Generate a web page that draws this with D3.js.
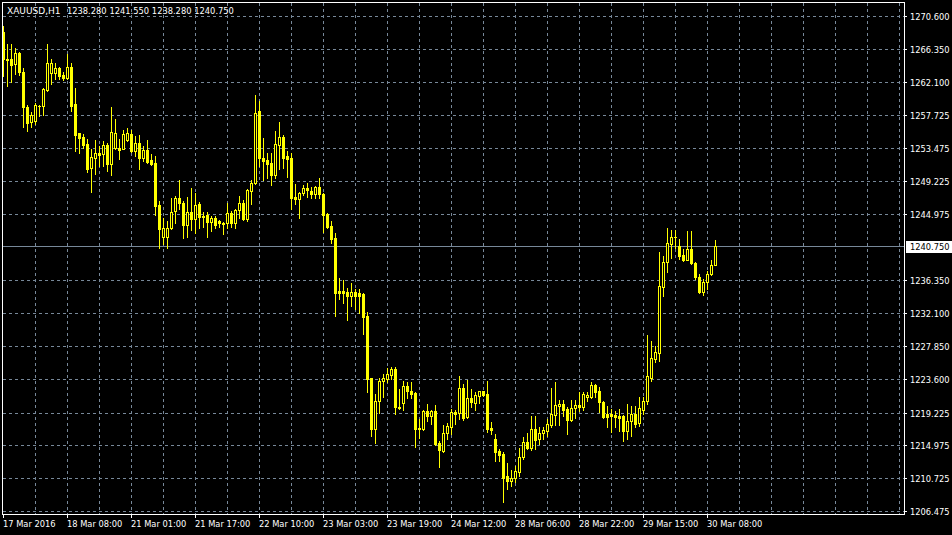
<!DOCTYPE html>
<html>
<head>
<meta charset="utf-8">
<script src="https://cdn.jsdelivr.net/npm/d3@7"></script>
<style>
html,body{margin:0;padding:0;background:#000;overflow:hidden}
svg{display:block}
</style>
</head>
<body>
<svg id="chart" width="952" height="535"></svg>
<script>
// ---------------- data ----------------
const symbol = "XAUUSD,H1";
const lastBarOHLC = ["1238.280", "1241.550", "1238.280", "1240.750"];
const bidPrice = 1240.750;

const open = [
1268.59,1265.06,1265.06,1264.41,1265.75,1263.38,1258.85,1256.91,1256.99,1258.98,
1258.93,1261.00,1263.16,1263.16,1263.90,1262.90,1262.51,1264.03,1259.15,1255.39,
1254.97,1253.97,1250.86,1252.25,1252.80,1252.77,1253.84,1251.47,1253.54,1253.54,
1253.41,1254.53,1255.26,1253.10,1254.10,1252.25,1253.19,1251.90,1251.51,1246.07,
1241.97,1241.97,1243.19,1245.34,1247.07,1246.42,1243.49,1245.26,1244.26,1246.20,
1244.69,1244.78,1243.91,1244.39,1244.04,1243.84,1243.75,1245.04,1243.75,1245.47,
1246.42,1244.26,1247.93,1248.92,1258.24,1252.25,1251.94,1251.51,1249.96,1253.88,
1254.97,1252.45,1252.16,1247.20,1246.94,1247.72,1248.28,1247.93,1247.59,1248.44,
1247.50,1244.91,1243.40,1241.80,1234.98,1234.94,1234.85,1234.34,1234.85,1234.69,
1234.56,1231.75,1223.65,1217.08,1220.67,1223.26,1223.56,1224.11,1224.85,1219.97,
1220.41,1222.61,1222.04,1221.71,1217.17,1217.08,1219.38,1218.73,1219.38,1215.27,
1214.20,1216.53,1217.38,1219.32,1219.12,1222.39,1218.60,1221.06,1220.45,1221.39,
1221.96,1221.61,1217.21,1215.79,1214.20,1213.85,1211.04,1210.32,1210.70,1211.58,
1213.42,1215.44,1214.63,1217.08,1215.79,1216.53,1216.86,1217.64,1218.94,1220.10,
1220.32,1219.67,1218.29,1219.76,1220.19,1219.97,1221.19,1221.19,1222.78,1221.96,
1220.54,1219.03,1219.03,1218.90,1218.81,1218.81,1216.79,1218.16,1219.03,1217.82,
1219.58,1220.67,1223.68,1226.14,1226.92,1235.55,1238.79,1241.12,1242.02,1240.81,
1239.60,1238.99,1240.38,1238.66,1236.85,1234.85,1236.16,1237.24,1238.28
];
const high = [
1269.24,1266.91,1266.91,1266.39,1265.88,1263.81,1259.02,1258.11,1259.37,1259.02,
1261.31,1266.91,1264.97,1264.54,1263.93,1263.38,1265.62,1264.54,1261.31,1255.45,
1255.26,1254.62,1253.32,1254.53,1253.75,1254.40,1254.19,1258.80,1257.20,1254.62,
1255.78,1256.04,1255.78,1255.04,1255.13,1253.75,1254.49,1252.68,1252.45,1246.63,
1244.43,1244.04,1246.98,1247.28,1249.31,1246.59,1247.15,1248.37,1247.63,1246.55,
1245.26,1245.26,1244.69,1244.69,1244.17,1243.91,1246.33,1245.34,1245.65,1247.28,
1246.72,1248.24,1249.35,1260.31,1259.57,1254.84,1252.90,1252.80,1255.69,1256.91,
1255.13,1253.10,1252.90,1248.79,1247.80,1248.66,1248.92,1248.50,1248.57,1249.57,
1247.72,1245.04,1244.04,1242.54,1236.72,1236.41,1235.42,1236.07,1235.20,1235.20,
1234.69,1232.19,1223.68,1221.61,1223.65,1224.20,1224.94,1225.07,1225.07,1222.26,
1223.34,1223.13,1223.21,1221.84,1218.38,1219.54,1220.32,1219.54,1220.19,1215.57,
1217.64,1217.82,1219.67,1219.54,1223.98,1222.91,1223.47,1222.26,1221.84,1222.04,
1222.04,1223.34,1217.95,1216.44,1214.50,1214.07,1212.68,1211.82,1212.34,1214.59,
1216.01,1216.57,1218.73,1218.73,1217.34,1217.30,1218.38,1222.35,1223.21,1220.84,
1220.88,1219.89,1220.84,1220.84,1221.84,1221.91,1221.84,1223.13,1222.90,1222.48,
1220.71,1220.10,1219.67,1219.45,1219.67,1218.94,1220.32,1220.02,1220.06,1221.27,
1221.19,1229.25,1228.51,1227.79,1240.03,1239.51,1243.10,1242.88,1242.88,1241.67,
1240.38,1242.75,1242.75,1238.79,1237.14,1236.50,1237.57,1238.96,1241.55
];
const low = [
1262.77,1261.51,1262.03,1263.03,1262.90,1256.21,1255.65,1256.21,1256.65,1257.63,
1257.72,1260.89,1261.73,1262.38,1262.38,1262.25,1262.45,1258.28,1253.10,1252.90,
1253.54,1250.38,1247.80,1250.09,1251.16,1251.16,1250.51,1250.00,1253.32,1252.03,
1253.32,1254.40,1253.02,1252.45,1250.82,1251.81,1251.51,1251.29,1244.78,1240.60,
1241.03,1240.60,1242.97,1243.84,1245.56,1241.89,1241.97,1242.88,1242.45,1243.19,
1243.32,1241.97,1242.75,1243.19,1243.27,1242.41,1243.19,1243.27,1243.19,1244.39,
1244.13,1244.04,1246.20,1248.79,1251.16,1249.35,1249.66,1248.66,1249.66,1250.73,
1250.95,1249.74,1245.56,1246.20,1244.39,1247.37,1247.15,1247.07,1247.07,1247.07,
1242.62,1243.19,1241.25,1231.75,1233.91,1233.48,1231.23,1233.04,1232.62,1232.10,
1229.38,1221.91,1216.22,1215.27,1219.16,1221.19,1223.13,1223.56,1219.03,1219.67,
1219.54,1221.10,1221.10,1214.72,1215.88,1216.95,1218.16,1217.73,1215.05,1212.21,
1214.07,1215.79,1216.44,1217.73,1218.38,1218.29,1218.47,1219.89,1219.58,1220.45,
1221.32,1216.74,1216.44,1212.98,1212.98,1207.70,1209.32,1209.75,1210.19,1211.04,
1213.20,1214.50,1214.41,1214.50,1215.14,1215.79,1216.22,1217.34,1217.60,1217.60,
1218.73,1216.44,1218.16,1218.51,1219.45,1219.58,1220.75,1221.10,1221.19,1219.32,
1218.57,1217.38,1216.74,1217.30,1216.79,1215.49,1215.79,1216.14,1217.34,1217.43,
1219.03,1220.32,1223.34,1225.72,1225.85,1234.34,1237.49,1239.31,1240.51,1239.18,
1238.86,1238.95,1238.44,1236.50,1234.78,1234.47,1235.20,1237.02,1238.28
];
const close = [
1264.97,1264.91,1264.23,1265.75,1263.38,1258.80,1256.78,1257.76,1259.02,1258.93,
1261.09,1264.54,1264.54,1263.90,1262.81,1262.51,1264.03,1258.93,1255.13,1254.84,
1253.84,1250.73,1252.33,1252.80,1252.55,1253.84,1251.47,1255.61,1255.48,1253.23,
1255.26,1255.39,1253.10,1254.10,1252.25,1253.19,1251.68,1251.38,1245.98,1242.97,
1243.10,1243.19,1245.26,1247.07,1246.42,1243.49,1245.26,1244.26,1246.11,1244.56,
1244.56,1243.91,1244.39,1243.52,1243.75,1243.65,1245.04,1243.75,1245.47,1246.42,
1244.26,1248.06,1248.92,1258.07,1252.16,1251.81,1251.38,1249.96,1253.97,1254.97,
1252.25,1252.12,1246.98,1246.94,1247.72,1248.28,1248.06,1247.50,1248.44,1247.50,
1244.82,1243.27,1241.67,1234.69,1234.69,1234.69,1234.34,1234.85,1234.34,1234.34,
1231.62,1223.56,1217.08,1220.67,1223.34,1223.65,1224.20,1224.85,1219.89,1219.84,
1222.61,1222.04,1221.61,1217.08,1217.12,1219.38,1218.81,1219.38,1215.14,1214.41,
1216.57,1217.51,1219.32,1219.03,1222.39,1218.47,1221.06,1220.54,1221.48,1221.96,
1221.52,1217.08,1216.95,1214.15,1213.76,1210.74,1210.32,1210.74,1211.61,1213.42,
1215.44,1214.63,1217.08,1215.73,1216.57,1216.95,1217.73,1219.03,1220.19,1220.32,
1219.58,1218.29,1219.76,1220.19,1219.97,1221.61,1221.48,1222.78,1221.91,1220.54,
1218.68,1218.68,1218.73,1218.60,1218.51,1216.79,1218.08,1219.03,1217.73,1219.76,
1220.75,1223.91,1226.36,1227.01,1235.63,1238.79,1241.16,1242.02,1241.96,1239.51,
1238.99,1240.38,1238.57,1236.80,1234.85,1236.20,1237.24,1238.31,1240.75
];

const timeLabels = [
"17 Mar 2016","18 Mar 08:00","21 Mar 01:00","21 Mar 17:00","22 Mar 10:00","23 Mar 03:00",
"23 Mar 19:00","24 Mar 12:00","28 Mar 06:00","28 Mar 22:00","29 Mar 15:00","30 Mar 08:00"
];
const barsPerTimeLabel = 16;
const barsPerGridLine = 8;

const priceTicks = [
1270.600,1266.350,1262.100,1257.725,1253.475,1249.225,1244.975,
1236.350,1232.100,1227.850,1223.600,1219.225,1214.975,1210.725,1206.475
];

// ---------------- drawing ----------------
const W = 952, H = 535;
const frame = {left: 2, top: 2, right: 904, bottom: 514};
const candleColor = "#ffff00";
const gridColor = "#778899";
const textColor = "#ffffff";
const fontFamily = "'DejaVu Sans', Verdana, sans-serif";

const n = close.length;
const bars = d3.range(n).map(i => ({i, o: open[i], h: high[i], l: low[i], c: close[i]}));

const x = d3.scaleLinear().domain([0, 1]).range([3, 7]);            // column of each bar
const y = d3.scaleLinear().domain(d3.extent(priceTicks)).range([511.5, 16.5]);
const row = v => Math.floor(y(v));

const svg = d3.select("#chart");
svg.append("rect").attr("width", W).attr("height", H).attr("fill", "#000");

svg.append("defs").append("clipPath").attr("id", "plotClip")
  .append("rect")
  .attr("x", frame.left + 1).attr("y", frame.top + 1)
  .attr("width", frame.right - frame.left - 1).attr("height", frame.bottom - frame.top - 1);

const plot = svg.append("g").attr("clip-path", "url(#plotClip)");

// grid
const gridG = plot.append("g").attr("stroke", gridColor).attr("stroke-width", 1)
  .attr("stroke-dasharray", "3,3").attr("shape-rendering", "crispEdges");

gridG.selectAll("line.h").data(priceTicks).join("line").attr("class", "h")
  .attr("x1", frame.left + 1).attr("x2", frame.right)
  .attr("y1", d => row(d) + 0.5).attr("y2", d => row(d) + 0.5);

const vGrid = [];
for (let k = barsPerGridLine; x(k) < frame.right; k += barsPerGridLine) vGrid.push(k);
gridG.selectAll("line.v").data(vGrid).join("line").attr("class", "v")
  .attr("x1", d => x(d) + 0.5).attr("x2", d => x(d) + 0.5)
  .attr("y1", frame.top + 1).attr("y2", frame.bottom);

// bid line
plot.append("line")
  .attr("x1", frame.left + 1).attr("x2", frame.right)
  .attr("y1", row(bidPrice) + 0.5).attr("y2", row(bidPrice) + 0.5)
  .attr("stroke", gridColor).attr("stroke-width", 1).attr("shape-rendering", "crispEdges");

// candles
const cG = plot.append("g").attr("shape-rendering", "crispEdges");
const cand = cG.selectAll("g.candle").data(bars).join("g").attr("class", "candle");

cand.append("rect")
  .attr("x", d => x(d.i)).attr("y", d => row(d.h))
  .attr("width", 1).attr("height", d => row(d.l) - row(d.h) + 1)
  .attr("fill", candleColor);

cand.each(function(d) {
  const g = d3.select(this);
  const top = Math.min(row(d.o), row(d.c));
  const bot = Math.max(row(d.o), row(d.c));
  const cx = x(d.i);
  if (bot - top < 1) {
    g.append("rect").attr("x", cx - 1).attr("y", top).attr("width", 3).attr("height", 1)
      .attr("fill", candleColor);
  } else if (d.c > d.o) {
    g.append("rect").attr("x", cx - 0.5).attr("y", top + 0.5).attr("width", 2)
      .attr("height", bot - top).attr("fill", "#000").attr("stroke", candleColor).attr("stroke-width", 1);
  } else {
    g.append("rect").attr("x", cx - 1).attr("y", top).attr("width", 3)
      .attr("height", bot - top + 1).attr("fill", candleColor);
  }
});

// frame
svg.append("rect")
  .attr("x", frame.left + 0.5).attr("y", frame.top + 0.5)
  .attr("width", frame.right - frame.left).attr("height", frame.bottom - frame.top)
  .attr("fill", "none").attr("stroke", "#ffffff").attr("stroke-width", 1)
  .attr("shape-rendering", "crispEdges");

// right price axis
const yAx = svg.append("g").attr("font-family", fontFamily).attr("font-size", 8.3).attr("fill", textColor);
yAx.selectAll("line").data(priceTicks).join("line")
  .attr("x1", frame.right + 1).attr("x2", frame.right + 3)
  .attr("y1", d => row(d) + 0.5).attr("y2", d => row(d) + 0.5)
  .attr("stroke", "#ffffff").attr("shape-rendering", "crispEdges");
yAx.selectAll("text").data(priceTicks).join("text")
  .attr("x", 910).attr("y", d => row(d) + 3.5)
  .text(d => d3.format(".3f")(d));

// bid label
const bidRow = row(bidPrice);
svg.append("rect").attr("x", frame.right + 2).attr("y", bidRow - 5)
  .attr("width", W - frame.right - 2).attr("height", 12).attr("fill", "#ffffff");
svg.append("text").attr("x", 910).attr("y", bidRow + 3.5)
  .attr("font-family", fontFamily).attr("font-size", 8.3).attr("fill", "#000")
  .text(d3.format(".3f")(bidPrice));

// bottom time axis
const tIdx = timeLabels.map((t, k) => ({t, i: k * barsPerTimeLabel}));
const xAx = svg.append("g").attr("font-family", fontFamily).attr("font-size", 8.3).attr("fill", textColor);
xAx.selectAll("line").data(tIdx).join("line")
  .attr("x1", d => x(d.i) + 0.5).attr("x2", d => x(d.i) + 0.5)
  .attr("y1", frame.bottom + 1).attr("y2", frame.bottom + 4)
  .attr("stroke", "#ffffff").attr("shape-rendering", "crispEdges");
xAx.selectAll("text").data(tIdx).join("text")
  .attr("x", d => x(d.i)).attr("y", 527)
  .text(d => d.t);

// title
svg.append("text").attr("x", 7).attr("y", 14)
  .attr("font-family", fontFamily).attr("font-size", 9).attr("fill", textColor)
  .text(symbol);
svg.append("text").attr("x", 67).attr("y", 14)
  .attr("font-family", fontFamily).attr("font-size", 8.3).attr("fill", textColor)
  .attr("word-spacing", 0.2)
  .text(lastBarOHLC.join(" "));
</script>
</body>
</html>
